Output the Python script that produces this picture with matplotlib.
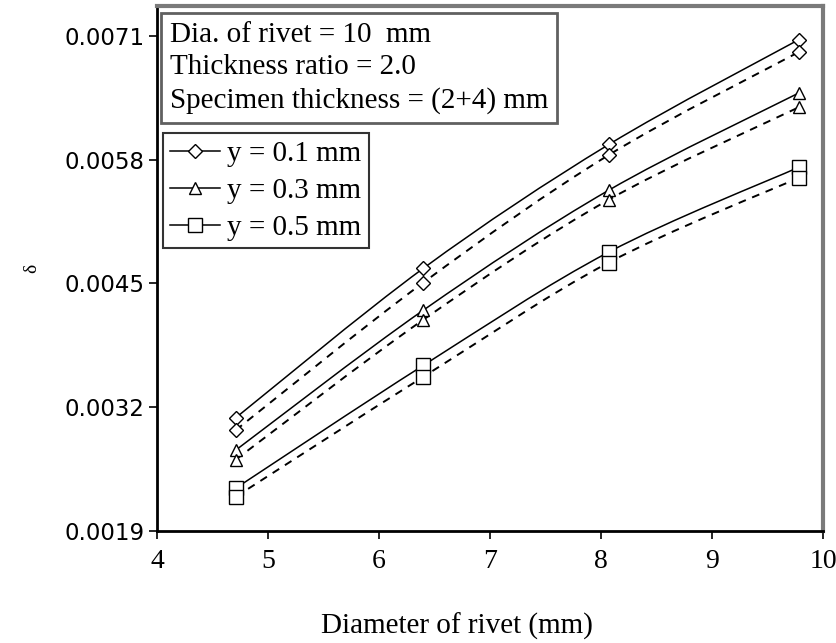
import numpy as np
import matplotlib
matplotlib.use("Agg")
import matplotlib.pyplot as plt
from matplotlib.path import Path
from matplotlib.patches import PathPatch
from matplotlib.lines import Line2D

# ---------------- data ----------------
diameter = [4.71, 6.40, 8.07, 9.78]
labels = ["y = 0.1 mm", "y = 0.3 mm", "y = 0.5 mm"]
markers = ["D", "^", "s"]
msizes = [7, 9, 10]

delta_solid_01 = [0.00309, 0.00466, 0.00596, 0.00706]
delta_dash_01 = [0.00296, 0.00451, 0.00585, 0.00693]
delta_solid_03 = [0.00275, 0.00422, 0.00548, 0.00650]
delta_dash_03 = [0.00265, 0.00412, 0.00538, 0.00635]
delta_solid_05 = [0.00235, 0.00364, 0.00483, 0.00572]
delta_dash_05 = [0.00226, 0.00352, 0.00472, 0.00561]

solid_series = [delta_solid_01, delta_solid_03, delta_solid_05]
dash_series = [delta_dash_01, delta_dash_03, delta_dash_05]

yticks = [0.0019, 0.0032, 0.0045, 0.0058, 0.0071]
xticks = [4, 5, 6, 7, 8, 9, 10]

info_text = "Dia. of rivet = 10  mm\nThickness ratio = 2.0\nSpecimen thickness = (2+4) mm"

serif = ["Liberation Serif", "DejaVu Serif"]
sans = ["DejaVu Sans"]

fig = plt.figure(figsize=(8.37, 6.43), dpi=100)
ax = fig.add_axes([0.1876, 0.1742, 0.7957, 0.8165])


def smooth_path(xs, ys):
    pts = np.column_stack([xs, ys]).astype(float)
    ext = np.vstack([pts[0], pts, pts[-1]])
    verts = [tuple(pts[0])]
    codes = [Path.MOVETO]
    for i in range(len(pts) - 1):
        p0, p1, p2, p3 = ext[i], ext[i + 1], ext[i + 2], ext[i + 3]
        c1 = p1 + (p2 - p0) / 6.0
        c2 = p2 - (p3 - p1) / 6.0
        verts += [tuple(c1), tuple(c2), tuple(p2)]
        codes += [Path.CURVE4] * 3
    return Path(verts, codes)


for ys, m, ms in zip(solid_series, markers, msizes):
    ax.add_patch(PathPatch(smooth_path(diameter, ys), fill=False, ec="black",
                           lw=1.1, transform=ax.transData, zorder=2))
    ax.plot(diameter, ys, ls="none", marker=m, ms=ms, mfc="white", mec="black",
            mew=1.0, zorder=3)
for ys, m, ms in zip(dash_series, markers, msizes):
    ax.add_patch(PathPatch(smooth_path(diameter, ys), fill=False, ec="black",
                           lw=1.4, ls=(0, (4, 3.5)), transform=ax.transData, zorder=2))
    ax.plot(diameter, ys, ls="none", marker=m, ms=ms, mfc="white", mec="black",
            mew=1.0, zorder=3)

ax.set_xlim(4, 10)
ax.set_ylim(0.0019, 0.007415)
ax.set_xticks(xticks)
ax.set_xticklabels([str(v) for v in xticks], fontfamily=serif, fontsize=20)
ax.set_yticks(yticks)
ax.set_yticklabels([f"{v:.4f}" for v in yticks], fontfamily=sans, fontsize=16.5)
ax.tick_params(axis="both", direction="out", length=6, width=1.2, colors="black")
ax.tick_params(axis="x", pad=7)
ax.tick_params(axis="y", pad=3)

ax.set_xlabel("Diameter of rivet (mm)", fontfamily=serif, fontsize=21)
ax.xaxis.label.set_va("center")
ax.xaxis.set_label_coords(0.45, -0.181)
ax.set_ylabel("δ", fontfamily=serif, fontsize=14, rotation=90)
ax.yaxis.set_label_coords(-0.175, 0.50)

for side in ["left", "bottom"]:
    ax.spines[side].set_linewidth(2.0)
    ax.spines[side].set_color("black")
for side in ["top", "right"]:
    ax.spines[side].set_linewidth(3.0)
    ax.spines[side].set_color("#7a7a7a")

ax.text(0.019, 0.97, info_text, transform=ax.transAxes, va="top", ha="left",
        fontfamily=serif, fontsize=21, linespacing=1.33,
        bbox=dict(boxstyle="square,pad=0.3", fc="white", ec="#606060", lw=2.0),
        zorder=5)

handles = [Line2D([], [], color="black", lw=1.1, marker=m, ms=ms, mfc="white",
                  mec="black") for m, ms in zip(markers, msizes)]
leg = ax.legend(handles, labels, loc="upper left", bbox_to_anchor=(0.009, 0.758),
                prop={"family": serif, "size": 21}, frameon=True, fancybox=False,
                edgecolor="black", handlelength=1.7, handletextpad=0.25,
                labelspacing=0.37, borderpad=0.25, borderaxespad=0.0)
leg.get_frame().set_linewidth(1.5)
leg.set_zorder(6)

fig.savefig("out.png", dpi=100)
